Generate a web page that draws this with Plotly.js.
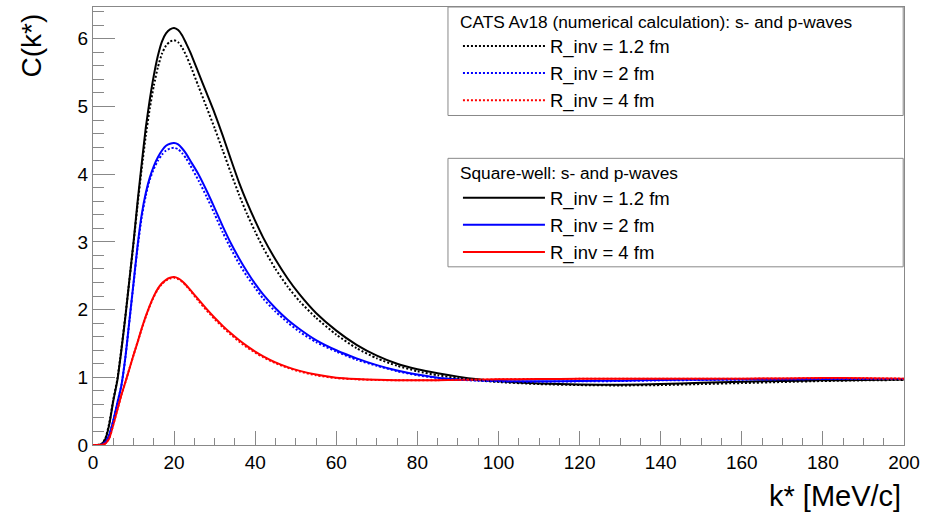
<!DOCTYPE html>
<html>
<head>
<meta charset="utf-8">
<script src="https://cdn.plot.ly/plotly-3.0.1.min.js"></script>
<style>html,body{margin:0;padding:0;background:#fff;}#chart{width:940px;height:513px;}</style>
</head>
<body>
<div id="chart"></div>
<script>
// k* grid [MeV/c]
const kStar = [0,1,2,3,4,5,6,7,8,9,10,11,12,13,14,15,16,17,18,19,20,21,22,23,24,26,28,30,32,34,36,38,40,42,45,48,51,55,60,65,70,75,80,85,90,95,100,110,120,130,140,150,160,170,180,190,200];

// Square-well: s- and p-waves (solid)
const swR12 = [0,0,0.01,0.08,0.3,0.65,0.95,1.4,1.9,2.45,3.0,3.6,4.15,4.68,5.1,5.46,5.75,5.96,6.08,6.14,6.16,6.13,6.05,5.93,5.8,5.5,5.2,4.9,4.57,4.22,3.88,3.58,3.31,3.06,2.74,2.46,2.22,1.95,1.69,1.48,1.32,1.2,1.12,1.06,1.01,0.97,0.94,0.91,0.895,0.89,0.9,0.92,0.935,0.945,0.955,0.96,0.966];
const swR2  = [0,0,0.005,0.04,0.15,0.36,0.62,0.88,1.3,1.85,2.4,2.95,3.4,3.72,3.95,4.12,4.25,4.35,4.42,4.45,4.46,4.44,4.38,4.3,4.2,4.0,3.76,3.5,3.23,2.98,2.76,2.56,2.38,2.22,2.02,1.85,1.71,1.55,1.4,1.28,1.18,1.1,1.04,0.995,0.97,0.955,0.945,0.94,0.945,0.95,0.96,0.965,0.97,0.97,0.975,0.975,0.975];
const swR4  = [0,0,0.003,0.02,0.1,0.3,0.52,0.74,0.93,1.13,1.33,1.52,1.72,1.9,2.06,2.2,2.31,2.39,2.44,2.47,2.48,2.46,2.42,2.36,2.29,2.15,2.01,1.88,1.76,1.65,1.55,1.46,1.38,1.31,1.22,1.15,1.095,1.04,0.995,0.975,0.963,0.957,0.956,0.958,0.962,0.965,0.97,0.975,0.978,0.98,0.98,0.98,0.98,0.982,0.99,0.985,0.98];

// CATS Av18 (numerical calculation): s- and p-waves (dotted)
const catsR12 = [0,0,0.01,0.09,0.32,0.67,0.97,1.42,1.92,2.45,2.98,3.55,4.08,4.56,4.97,5.31,5.58,5.78,5.9,5.96,5.98,5.95,5.87,5.75,5.61,5.3,4.99,4.68,4.35,4.02,3.7,3.41,3.15,2.91,2.6,2.34,2.12,1.88,1.63,1.43,1.28,1.17,1.09,1.03,0.99,0.955,0.93,0.9,0.885,0.88,0.885,0.9,0.915,0.93,0.945,0.955,0.96];
const catsR2  = [0,0,0.005,0.04,0.15,0.36,0.62,0.88,1.3,1.84,2.38,2.92,3.36,3.68,3.92,4.08,4.2,4.29,4.35,4.38,4.39,4.37,4.31,4.23,4.13,3.91,3.67,3.41,3.14,2.9,2.68,2.49,2.32,2.16,1.97,1.81,1.67,1.52,1.38,1.26,1.17,1.09,1.03,0.99,0.965,0.95,0.94,0.935,0.94,0.945,0.955,0.96,0.965,0.97,0.975,0.975,0.975];
const catsR4  = [0,0,0.003,0.02,0.1,0.3,0.52,0.74,0.93,1.13,1.33,1.52,1.71,1.89,2.05,2.19,2.3,2.38,2.43,2.46,2.47,2.45,2.41,2.35,2.28,2.13,1.99,1.86,1.74,1.63,1.53,1.44,1.365,1.295,1.21,1.14,1.085,1.03,0.988,0.97,0.96,0.955,0.955,0.958,0.962,0.966,0.97,0.975,0.977,0.979,0.98,0.98,0.98,0.982,0.988,0.985,0.98];

const labels = ['R_inv = 1.2 fm','R_inv = 2 fm','R_inv = 4 fm'];
const colors = ['#000000','#0000ff','#ff0000'];
const FONT = 'Liberation Sans, Arial, Helvetica, sans-serif';

const swSeries = [swR12, swR2, swR4];
const catsSeries = [catsR12, catsR2, catsR4];

const traces = [];
swSeries.forEach((ys, i) => traces.push({
  x: kStar, y: ys, type: 'scatter', mode: 'lines', name: labels[i],
  line: {color: colors[i], width: 2, shape: 'spline', smoothing: 0.6},
  legend: 'legend2', hoverinfo: 'skip'
}));
catsSeries.forEach((ys, i) => traces.push({
  x: kStar, y: ys, type: 'scatter', mode: 'lines', name: labels[i],
  line: {color: colors[i], width: 2, dash: '2px,2px', shape: 'spline', smoothing: 0.6},
  legend: 'legend', hoverinfo: 'skip'
}));

const legendCommon = {
  xref: 'paper', yref: 'paper', xanchor: 'left', yanchor: 'top',
  bgcolor: 'rgba(0,0,0,0)', borderwidth: 0,
  font: {family: FONT, size: 18.5, color: '#000'},
  itemwidth: 82, tracegroupgap: 0, traceorder: 'normal'
};
const legendTitleFont = {family: FONT, size: 17.3, color: '#000'};

const boxLine = {color: '#888888', width: 1};

const layout = {
  width: 940, height: 513,
  margin: {l: 93, r: 36, t: 5, b: 68},
  paper_bgcolor: '#ffffff', plot_bgcolor: '#ffffff',
  font: {family: FONT, size: 19, color: '#000'},
  xaxis: {
    range: [0, 200], dtick: 20, tick0: 0, ticks: 'inside', ticklen: 14, tickwidth: 1, tickcolor: '#888',
    minor: {dtick: 5, ticks: 'inside', ticklen: 7, tickwidth: 1, tickcolor: '#888'},
    showline: true, linecolor: '#888', linewidth: 1, mirror: true,
    showgrid: false, zeroline: false, tickfont: {family: FONT, size: 19, color: '#000'}
  },
  yaxis: {
    range: [0, 6.47], dtick: 1, tick0: 0, ticks: 'inside', ticklen: 22, tickwidth: 1, tickcolor: '#888',
    minor: {dtick: 0.2, ticks: 'inside', ticklen: 11, tickwidth: 1, tickcolor: '#888'},
    showline: true, linecolor: '#888', linewidth: 1, mirror: true,
    showgrid: false, zeroline: false, tickfont: {family: FONT, size: 19, color: '#000'}
  },
  legend: Object.assign({}, legendCommon, {
    x: 0.450, y: 1.0045,
    title: {text: 'CATS Av18 (numerical calculation): s- and p-waves', font: legendTitleFont}
  }),
  legend2: Object.assign({}, legendCommon, {
    x: 0.450, y: 0.658,
    title: {text: 'Square-well: s- and p-waves', font: legendTitleFont}
  }),
  shapes: [
    {type: 'rect', xref: 'paper', yref: 'paper', x0: 0.4377, x1: 0.999, y0: 0.7523, y1: 1.0,
     line: boxLine, fillcolor: '#ffffff', layer: 'above'},
    {type: 'rect', xref: 'paper', yref: 'paper', x0: 0.4377, x1: 0.999, y0: 0.4068, y1: 0.6545,
     line: boxLine, fillcolor: '#ffffff', layer: 'above'}
  ],
  annotations: [
    {text: 'C(k*)', xref: 'paper', yref: 'paper', x: -0.0758, y: 0.9886, xanchor: 'center', yanchor: 'top',
     textangle: -90, showarrow: false, font: {family: FONT, size: 28, color: '#000'}},
    {text: 'k* [MeV/c]', xref: 'paper', yref: 'paper', x: 0.9988, y: -0.117, xanchor: 'right', yanchor: 'middle',
     showarrow: false, font: {family: FONT, size: 29, color: '#000'}}
  ]
};

Plotly.newPlot('chart', traces, layout, {displayModeBar: false, staticPlot: true});
</script>
</body>
</html>
